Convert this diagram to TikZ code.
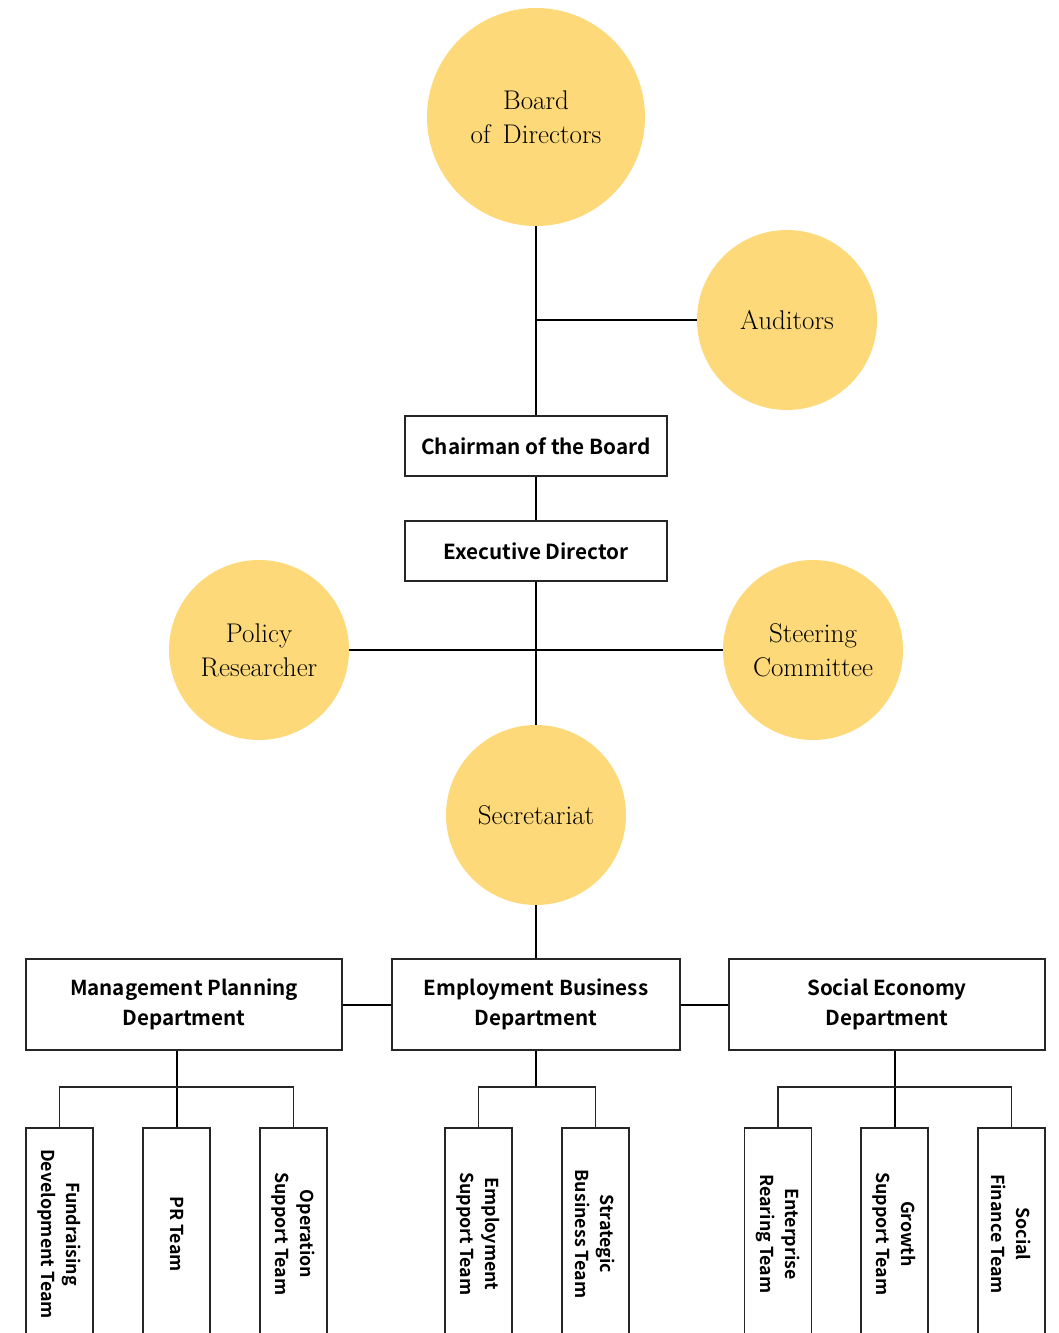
\documentclass[tikz,border=0pt]{standalone}
\usepackage{fontspec}
\newfontfamily\boxfont{Noto Sans CJK KR}[BoldFont={Noto Sans CJK KR Bold}]
\definecolor{circfill}{RGB}{253,217,121}
\tikzset{
  circ/.style={circle,fill=circfill,minimum size=180pt,inner sep=0pt,align=center,
    font=\fontsize{27}{34}\selectfont},
  headbox/.style={draw=black!85,line width=1.2pt,minimum width=262pt,minimum height=60pt,
    font=\boxfont\bfseries\fontsize{20.7}{30}\selectfont},
  dept/.style={draw=black!85,line width=1.2pt,minimum height=91pt,align=center,
    font=\boxfont\bfseries\fontsize{20.6}{30}\selectfont},
  team/.style={draw=black!85,line width=1.2pt,rotate=-90,minimum width=212pt,minimum height=67pt,
    inner sep=0pt,align=center,font=\boxfont\bfseries\fontsize{17.8}{25}\selectfont},
  link/.style={line width=2pt},
  sublink/.style={line width=1.2pt,black!85}
}
\begin{document}
\begin{tikzpicture}[x=1pt,y=-1pt]
\useasboundingbox (0,0) rectangle (1058,1333);
\node[circ,minimum size=218pt] (board) at (536,117) {Board\\of\hspace{4pt} Directors};
\node[circ] (auditors) at (787,320) {Auditors};
\node[headbox] (chair) at (536,446) {Chairman of the Board};
\node[headbox] (exec) at (536,551) {Executive Director};
\node[circ] (policy) at (259,650) {Policy\\Researcher};
\node[circ] (steering) at (813,650) {Steering\\Committee};
\node[circ] (secret) at (536,815) {Secretariat};
\node[dept,minimum width=316pt] (mgmt) at (184,1004.5) {Management Planning\\Department};
\node[dept,minimum width=288pt] (emp) at (536,1004.5) {Employment Business\\Department};
\node[dept,minimum width=316pt] (social) at (887,1004.5) {Social Economy\\Department};
% teams
\node[team] (fund) at (59.5,1234) {Fundraising\\Development Team};
\node[team] (pr) at (176.5,1234) {PR Team};
\node[team] (op) at (293.5,1234) {Operation\\Support Team};
\node[team] (esup) at (478.5,1234) {Employment\\Support Team};
\node[team] (strat) at (595.5,1234) {Strategic\\Business Team};
\node[team] (ent) at (778,1234) {Enterprise\\Rearing Team};
\node[team] (growth) at (894.5,1234) {Growth\\Support Team};
\node[team] (sfin) at (1011.5,1234) {Social\\Finance Team};
\coordinate (bar) at (0,1087);
% connectors
\draw[link] (board) -- (chair);
\draw[link] (auditors) -- (auditors -| board);
\draw[link] (chair) -- (exec);
\draw[link] (exec) -- (secret);
\draw[link] (policy) -- (steering);
\draw[link] (secret) -- (emp);
\draw[link] (mgmt) -- (emp);
\draw[link] (emp) -- (social);
\draw[link] (pr.west) -- (pr.west |- mgmt.south);
\draw[link] (emp.south) -- (emp.south |- bar);
\draw[link] (growth.west) -- (growth.west |- social.south);
\draw[sublink] (fund.west) -- (fund.west |- bar) -- (op.west |- bar) -- (op.west);
\draw[sublink] (esup.west) -- (esup.west |- bar) -- (strat.west |- bar) -- (strat.west);
\draw[sublink] (ent.west) -- (ent.west |- bar) -- (sfin.west |- bar) -- (sfin.west);
\end{tikzpicture}
\end{document}
